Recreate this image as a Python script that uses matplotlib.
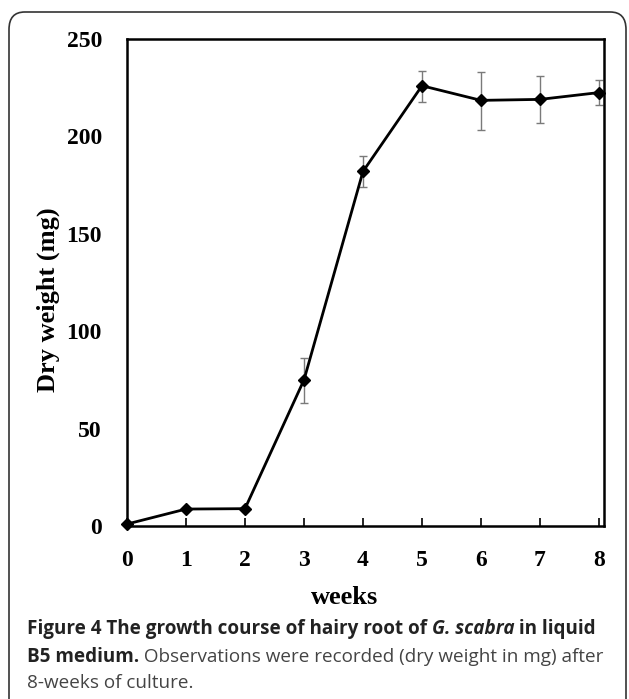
import matplotlib
matplotlib.use("Agg")
import matplotlib.pyplot as plt
from matplotlib.patches import FancyBboxPatch

# data
weeks = [0, 1, 2, 3, 4, 5, 6, 7, 8]
dry_weight = [1, 8.7, 8.9, 75, 182, 226, 218.5, 219, 222.5]
err_low = [0, 0, 0, 12, 8, 8.5, 15, 12, 6.5]
err_high = [0, 0, 0, 11, 8, 7.5, 14.5, 12, 6.5]
x_ticks = [0, 1, 2, 3, 4, 5, 6, 7, 8]
y_ticks = [0, 50, 100, 150, 200, 250]

serif = "Liberation Serif"
sans = "Open Sans"

fig = plt.figure(figsize=(6.29, 6.99), dpi=100)

# rounded frame around the figure panel
box = FancyBboxPatch((9 / 629, -0.05), 617 / 629, 1 - 12 / 699 + 0.05,
                     boxstyle="round,pad=0,rounding_size=0.025",
                     transform=fig.transFigure, fill=False,
                     edgecolor="#333333", linewidth=1.2)
fig.patches.append(box)

ax = fig.add_axes([127 / 629, 173 / 699, 477 / 629, 487 / 699])
ax.errorbar(weeks, dry_weight, yerr=[err_low, err_high], fmt="none",
            ecolor="#7a7a7a", elinewidth=1, capsize=3, capthick=1, zorder=2)
ax.plot(weeks, dry_weight, color="black", linewidth=2, marker="D",
        markersize=6, zorder=3, clip_on=False)

ax.set_xlim(0, 8.085)
ax.set_ylim(0, 250)
ax.set_xticks(x_ticks)
ax.set_yticks(y_ticks)
ax.tick_params(axis="x", direction="in", length=6, width=1.2, pad=17)
ax.tick_params(axis="y", length=0, pad=18)
for lab in ax.get_xticklabels() + ax.get_yticklabels():
    lab.set_fontfamily(serif)
    lab.set_fontweight("bold")
    lab.set_fontsize(17)
for s in ax.spines.values():
    s.set_linewidth(1.8)

ax.set_xlabel("weeks", fontfamily=serif, fontweight="bold", fontsize=19)
ax.xaxis.set_label_coords(0.457, -0.123)
ax.set_ylabel("Dry weight (mg)", fontfamily=serif, fontweight="bold", fontsize=19)
ax.yaxis.set_label_coords(-0.14, 0.464)

# caption, built piece by piece so mixed styles line up
renderer = fig.canvas.get_renderer()
cap_size = 13.6
lines = [
    [("Figure 4 The growth course of hairy root of ", "bold", "normal", "#222222"),
     ("G. scabra", "bold", "italic", "#222222"),
     (" in liquid", "bold", "normal", "#222222")],
    [("B5 medium.", "bold", "normal", "#222222"),
     (" Observations were recorded (dry weight in mg) after", "normal", "normal", "#444444")],
    [("8-weeks of culture.", "normal", "normal", "#444444")],
]
line_y = [629, 657, 683]
for parts, yy in zip(lines, line_y):
    x = 27 / 629
    for txt, weight, style, col in parts:
        t = fig.text(x, 1 - yy / 699, txt, fontfamily=sans, fontweight=weight,
                     fontstyle=style, fontsize=cap_size, color=col, va="center", ha="left")
        bb = t.get_window_extent(renderer=renderer)
        x += bb.width / fig.bbox.width

fig.savefig("out.png", dpi=100)
